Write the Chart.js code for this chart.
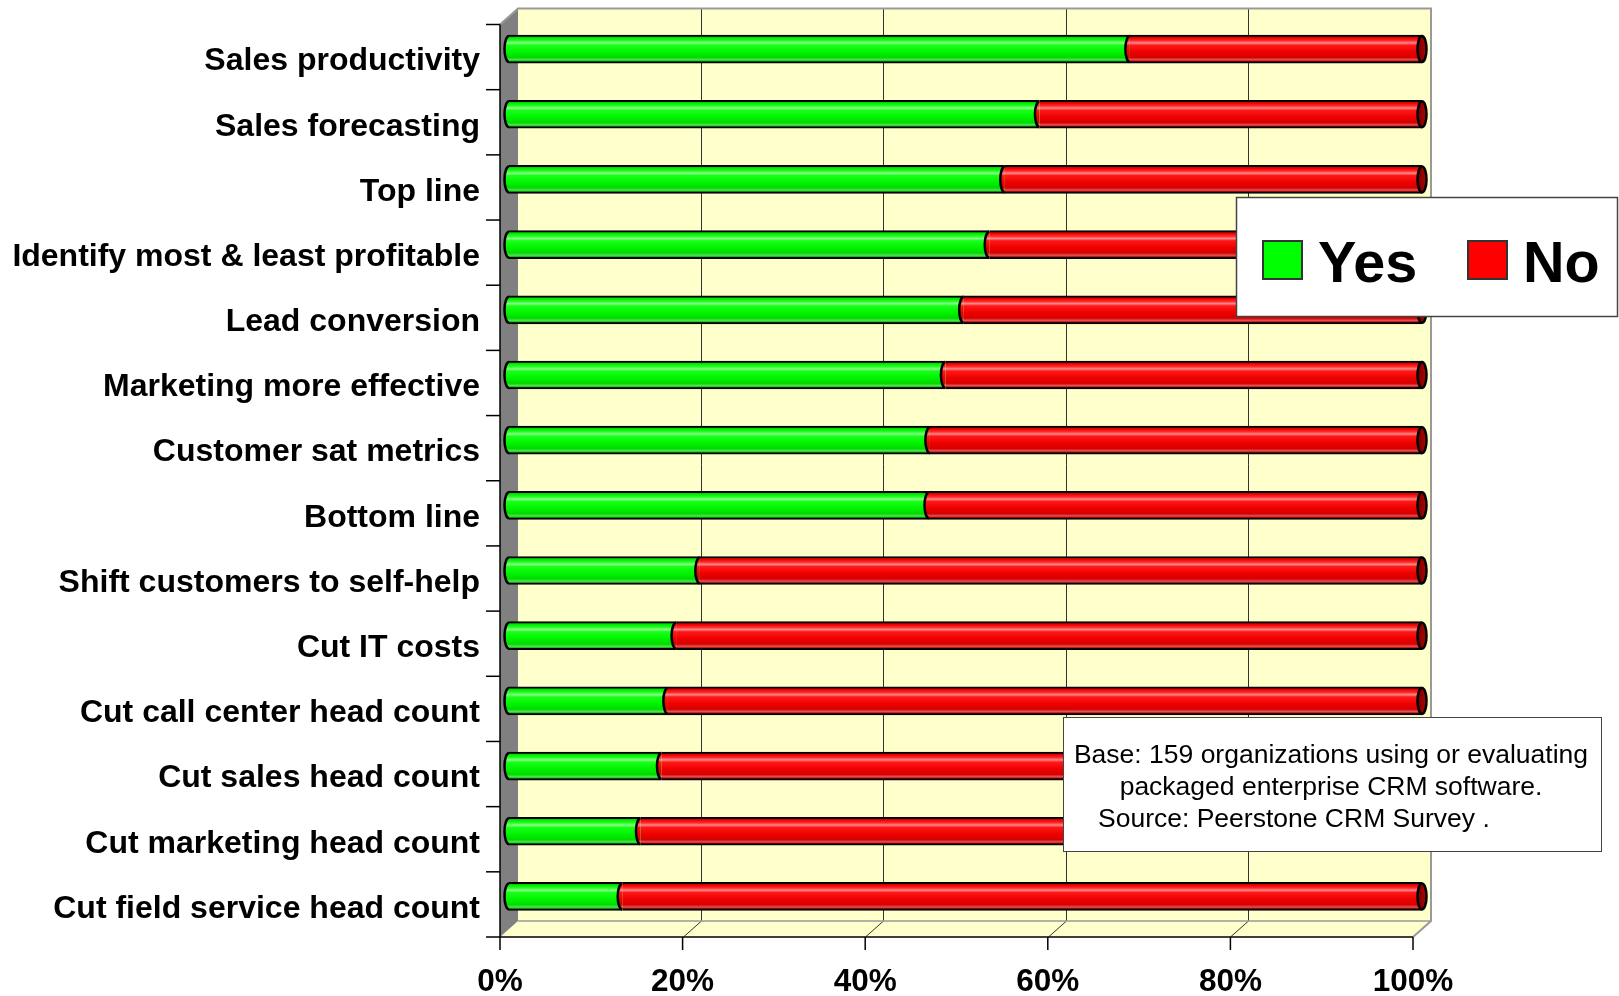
<!DOCTYPE html>
<html lang="en">
<head>
<meta charset="UTF-8">
<title>CRM benefits measured</title>
<script src="https://cdn.jsdelivr.net/npm/chart.js@4"></script>
<style>
  body { margin: 0; background: #fff; }
  #wrap { width: 1619px; height: 996px; position: relative; }
</style>
</head>
<body>
<div id="wrap"><canvas id="crmChart"></canvas></div>
<script>
// survey answers, % of organizations
const categories = [
  'Sales productivity',
  'Sales forecasting',
  'Top line',
  'Identify most & least profitable',
  'Lead conversion',
  'Marketing more effective',
  'Customer sat metrics',
  'Bottom line',
  'Shift customers to self-help',
  'Cut IT costs',
  'Cut call center head count',
  'Cut sales head count',
  'Cut marketing head count',
  'Cut field service head count'
];
const yesValues = [68.0, 58.1, 54.3, 52.6, 49.8, 47.8, 46.1, 46.0, 20.9, 18.3, 17.4, 16.7, 14.4, 12.4];
const noValues  = [32.0, 41.9, 45.7, 47.4, 50.2, 52.2, 53.9, 54.0, 79.1, 81.7, 82.6, 83.3, 85.6, 87.6];
const xTicks = [0, 20, 40, 60, 80, 100];
const seriesNames = ['Yes', 'No'];
const noteLines = [
  'Base: 159 organizations using or evaluating',
  'packaged enterprise CRM software.',
  'Source: Peerstone CRM Survey .'
];

const FONT = 'Arial, "Liberation Sans", sans-serif';
Chart.defaults.font.family = FONT;
Chart.defaults.color = '#000';

// half of the 3D depth: bars sit in the middle of the box
const depth = { dx: 9, dy: 8 };

const greenStops = [[0, '#009a00'], [0.1, '#00ea00'], [0.2, '#22ff22'], [0.28, '#8cff8c'], [0.36, '#1aff1a'],
  [0.6, '#00f400'], [0.8, '#00da00'], [0.88, '#55e055'], [0.94, '#00b800'], [1, '#008800']];
const redStops = [[0, '#a00000'], [0.1, '#f00000'], [0.2, '#ff2a2a'], [0.28, '#ff8a8a'], [0.36, '#ff1818'],
  [0.6, '#ee0000'], [0.8, '#d60000'], [0.88, '#e05555'], [0.94, '#c00000'], [1, '#8a0000']];

function barFill(ctx, cy, h, stops) {
  const g = ctx.createLinearGradient(0, cy - h, 0, cy + h);
  stops.forEach(s => g.addColorStop(s[0], s[1]));
  return g;
}

function scriptedFill(stops, flat) {
  return (c) => {
    const chart = c.chart;
    if (c.type !== 'data' || !chart.scales.y) return flat;
    const cy = chart.scales.y.getPixelForValue(c.dataIndex);
    if (!isFinite(cy)) return flat;
    return barFill(chart.ctx, cy, 14, stops);
  };
}

function line(ctx, x1, y1, x2, y2) {
  ctx.beginPath();
  ctx.moveTo(x1, y1);
  ctx.lineTo(x2, y2);
  ctx.stroke();
}

function poly(ctx, pts, fill) {
  ctx.beginPath();
  pts.forEach((p, i) => i ? ctx.lineTo(p[0], p[1]) : ctx.moveTo(p[0], p[1]));
  ctx.closePath();
  ctx.fillStyle = fill;
  ctx.fill();
}

// back wall, floor, side wall, grid and tick marks
const wallsPlugin = {
  id: 'walls',
  beforeDraw(chart) {
    const { ctx, chartArea: a, scales: { x, y } } = chart;
    const { dx, dy } = depth;
    const x0 = x.getPixelForValue(0), x1 = x.getPixelForValue(100);
    ctx.save();
    ctx.fillStyle = '#ffffcc';
    ctx.fillRect(x0 + dx, a.top - dy, x1 - x0, a.bottom - a.top);
    poly(ctx, [[x0 - dx, a.bottom + dy], [x0 + dx, a.bottom - dy], [x1 + dx, a.bottom - dy], [x1 - dx, a.bottom + dy]], '#ffffcc');
    poly(ctx, [[x0 - dx, a.top + dy], [x0 + dx, a.top - dy], [x0 + dx, a.bottom - dy], [x0 - dx, a.bottom + dy]], '#808080');

    ctx.strokeStyle = '#333';
    ctx.lineWidth = 1;
    xTicks.forEach(v => {
      if (v === 0 || v === 100) return;
      const px = Math.round(x.getPixelForValue(v)) + 0.5;
      line(ctx, px + dx, a.top - dy, px + dx, a.bottom - dy);
      line(ctx, px + dx, a.bottom - dy, px - dx, a.bottom + dy);
    });

    // box edges
    ctx.strokeStyle = '#999';
    ctx.lineWidth = 2;
    ctx.beginPath();
    ctx.moveTo(x0 - dx, a.top + dy);
    ctx.lineTo(x0 + dx, a.top - dy);
    ctx.lineTo(x1 + dx, a.top - dy);
    ctx.lineTo(x1 + dx, a.bottom - dy);
    ctx.lineTo(x1 - dx, a.bottom + dy);
    ctx.stroke();
    ctx.lineWidth = 1.5;
    line(ctx, x0 + dx, a.bottom - dy, x1 + dx, a.bottom - dy);

    // axes
    ctx.strokeStyle = '#000';
    ctx.lineWidth = 1.5;
    line(ctx, x0 - dx, a.top + dy, x0 - dx, a.bottom + dy);
    line(ctx, x0 - dx, a.bottom + dy, x1 - dx, a.bottom + dy);
    xTicks.forEach(v => {
      const px = x.getPixelForValue(v) - dx;
      line(ctx, px, a.bottom + dy, px, a.bottom + dy + 13);
    });
    const band = y.getPixelForValue(1) - y.getPixelForValue(0);
    for (let k = 0; k <= categories.length; k++) {
      const py = y.getPixelForValue(k) - band / 2 + dy;
      line(ctx, x0 - dx - 14, py, x0 - dx, py);
    }
    ctx.restore();
  }
};

function leftCap(ctx, x, cy, h, fill) {
  const rx = 4.5, ry = h - 1;
  ctx.beginPath();
  ctx.ellipse(x, cy, rx, ry, 0, -Math.PI / 2, Math.PI / 2, true);
  ctx.closePath();
  ctx.fillStyle = fill;
  ctx.fill();
  ctx.beginPath();
  ctx.ellipse(x, cy, rx, ry, 0, -Math.PI / 2, Math.PI / 2, true);
  ctx.lineWidth = 2.5;
  ctx.strokeStyle = '#000';
  ctx.stroke();
}

function endCap(ctx, x, cy, h) {
  const rx = 4.5, ry = h - 1;
  const g = ctx.createLinearGradient(x - rx, 0, x + rx, 0);
  g.addColorStop(0, '#6e0000');
  g.addColorStop(1, '#b80000');
  ctx.beginPath();
  ctx.ellipse(x, cy, rx, ry, 0, 0, Math.PI * 2);
  ctx.fillStyle = g;
  ctx.fill();
  ctx.lineWidth = 2.5;
  ctx.strokeStyle = '#000';
  ctx.stroke();
}

// rounded cylinder ends
const capsPlugin = {
  id: 'caps',
  afterDatasetsDraw(chart) {
    const ctx = chart.ctx;
    const yesMeta = chart.getDatasetMeta(0), noMeta = chart.getDatasetMeta(1);
    ctx.save();
    yesMeta.data.forEach((bar, i) => {
      const g = bar.getProps(['x', 'y', 'base', 'height'], true);
      const r = noMeta.data[i].getProps(['x', 'y', 'base', 'height'], true);
      const h = g.height / 2;
      leftCap(ctx, g.base, g.y, h, barFill(ctx, g.y, h, greenStops));
      leftCap(ctx, r.base, r.y, h, barFill(ctx, r.y, h, redStops));
      endCap(ctx, r.x, r.y, h);
    });
    ctx.restore();
  }
};

// legend box and source note
const boxesPlugin = {
  id: 'boxes',
  afterDraw(chart) {
    const ctx = chart.ctx;
    ctx.save();
    // legend
    ctx.fillStyle = '#fff';
    ctx.fillRect(1236, 197, 382, 120);
    ctx.strokeStyle = '#444';
    ctx.lineWidth = 1.5;
    ctx.strokeRect(1236.5, 197.5, 381, 119);
    const keyX = [1263, 1468];
    chart.data.datasets.forEach((ds, i) => {
      ctx.fillStyle = ds.legendColor;
      ctx.fillRect(keyX[i], 241, 39, 38);
      ctx.strokeStyle = '#333';
      ctx.lineWidth = 2;
      ctx.strokeRect(keyX[i], 241, 39, 38);
      ctx.fillStyle = '#000';
      ctx.font = 'bold 57.5px ' + FONT;
      ctx.textAlign = 'left';
      ctx.textBaseline = 'alphabetic';
      ctx.fillText(ds.label, keyX[i] + 55, 282);
    });

    // note
    ctx.fillStyle = '#fff';
    ctx.fillRect(1063, 717, 539, 135);
    ctx.strokeStyle = '#444';
    ctx.lineWidth = 1;
    ctx.strokeRect(1063.5, 717.5, 538, 134);
    ctx.fillStyle = '#000';
    ctx.font = '26.5px ' + FONT;
    ctx.textAlign = 'center';
    ctx.fillText(noteLines[0], 1331, 763);
    ctx.fillText(noteLines[1], 1331, 795);
    ctx.textAlign = 'left';
    ctx.fillText(noteLines[2], 1098, 827);
    ctx.restore();
  }
};

new Chart(document.getElementById('crmChart'), {
  type: 'bar',
  data: {
    labels: categories,
    datasets: [
      {
        label: seriesNames[0],
        data: yesValues,
        legendColor: '#00ff00',
        backgroundColor: scriptedFill(greenStops, '#00ff00'),
        borderColor: '#000',
        borderWidth: { top: 2, bottom: 2, left: 0, right: 0 },
        borderSkipped: false
      },
      {
        label: seriesNames[1],
        data: noValues,
        legendColor: '#ff0000',
        backgroundColor: scriptedFill(redStops, '#ff0000'),
        borderColor: '#000',
        borderWidth: { top: 2, bottom: 2, left: 0, right: 0 },
        borderSkipped: false
      }
    ]
  },
  options: {
    indexAxis: 'y',
    responsive: true,
    maintainAspectRatio: false,
    animation: false,
    events: [],
    barThickness: 28,
    layout: { padding: { top: 16.5, right: 197, bottom: 0, left: 0 } },
    plugins: { legend: { display: false }, tooltip: { enabled: false } },
    scales: {
      x: {
        stacked: true,
        min: 0,
        max: 100,
        grid: { display: false, drawTicks: false },
        border: { display: false },
        afterFit(s) { s.height = 67; s.paddingLeft = 0; s.paddingRight = 0; },
        afterBuildTicks(s) { s.ticks = xTicks.map(v => ({ value: v })); },
        ticks: {
          autoSkip: false,
          maxRotation: 0,
          padding: 34,
          labelOffset: -depth.dx,
          font: { size: 31.5, weight: 'bold' },
          callback: v => v + '%'
        }
      },
      y: {
        stacked: true,
        grid: { display: false, drawTicks: false },
        border: { display: false },
        afterFit(s) { s.width = 509; s.paddingTop = 0; s.paddingBottom = 0; },
        ticks: {
          autoSkip: false,
          padding: 29,
          labelOffset: depth.dy + 4.5,
          font: { size: 32, weight: 'bold' }
        }
      }
    }
  },
  plugins: [wallsPlugin, capsPlugin, boxesPlugin]
});
</script>
</body>
</html>
